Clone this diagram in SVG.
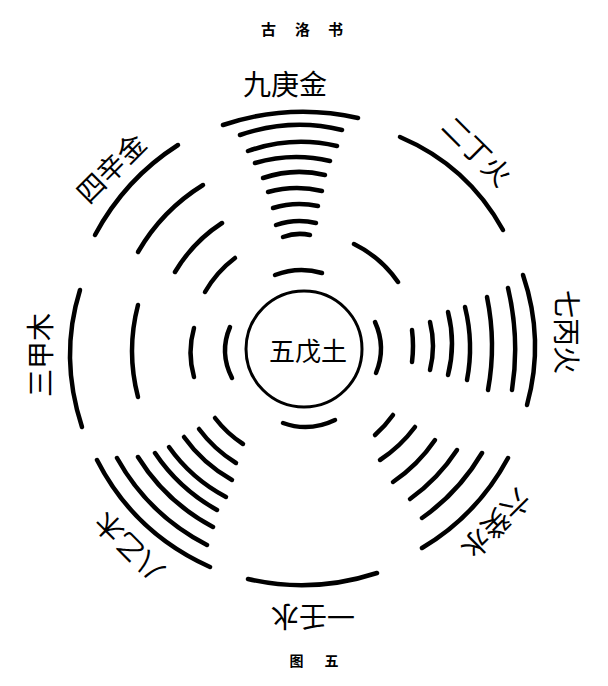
<svg xmlns="http://www.w3.org/2000/svg" width="608" height="686" viewBox="0 0 608 686">
<style>
.a{fill:none;stroke:#000;stroke-width:4.5;stroke-linecap:round}
.t{font-family:"Noto Sans CJK SC","Noto Sans CJK JP",sans-serif;font-size:28px;fill:#000;text-anchor:middle;dominant-baseline:central}
.h{font-family:"Noto Sans CJK SC","Noto Sans CJK JP",sans-serif;font-size:15px;font-weight:bold;fill:#000;text-anchor:middle}
</style>
<rect width="608" height="686" fill="#fff"/>
<text class="h" x="268.5 302.5 335.5" y="35">古洛书</text>
<text class="h" x="296.5 331.5" y="666" style="font-size:14px">图五</text>

<g id="n9">
<path class="a" d="M223 125Q290.5 102.5 358 118"/>
<path class="a" d="M240 135Q291 117.5 342 130"/>
<path class="a" d="M248 151Q292.5 135.5 337 146"/>
<path class="a" d="M255 163Q292.5 152 330 161"/>
<path class="a" d="M263 178Q294 167.5 325 175"/>
<path class="a" d="M268 192Q295 184.5 322 191"/>
<path class="a" d="M273 208Q295.5 201 318 206"/>
<path class="a" d="M276 225Q296 218 316 223"/>
<path class="a" d="M283 237Q296.5 232 310 235"/>
<text class="t" x="285" y="83">九庚金</text>
</g>

<g id="n5">
<circle cx="304" cy="349" r="58" fill="none" stroke="#000" stroke-width="3"/>
<path class="a" d="M275 275Q298.5 266 322 273"/>
<path class="a" d="M283 423Q309 432.5 335 420"/>
<path class="a" d="M230 327Q219 352.5 232 378"/>
<path class="a" d="M375 322Q386.5 347.5 376 373"/>
<text class="t" x="308" y="349" style="font-size:26px">五戊土</text>
</g>

<g id="n3">
<path class="a" d="M80 290Q59 357 82 427"/>
<path class="a" d="M138 305Q126 351 138 397"/>
<path class="a" d="M194 328Q187 352.5 194 377"/>
<text class="t" transform="translate(39 355) rotate(-90)">三甲木</text>
</g>

<g id="n7">
<path class="a" d="M412 330Q414 346 412 362"/>
<path class="a" d="M430 322Q436 346 430 370"/>
<path class="a" d="M448 312Q456 343.5 448 375"/>
<path class="a" d="M465 307Q474 343.5 467 380"/>
<path class="a" d="M487 297Q496.5 343.5 488 390"/>
<path class="a" d="M508 288Q520 339 512 390"/>
<path class="a" d="M523 275Q545 340 527 405"/>
<text class="t" transform="translate(568 332) rotate(90)">七丙火</text>
</g>

<g id="n1">
<path class="a" d="M248 579Q312.5 594 377 573"/>
<text class="t" transform="translate(313 618) rotate(180)">一壬水</text>
</g>

<g id="n4">
<path class="a" d="M95 235Q125.2 178.7 178 145"/>
<path class="a" d="M138 252Q162.2 210.2 203 185"/>
<path class="a" d="M175 272Q192.9 241.9 222 223"/>
<path class="a" d="M205 292Q216.7 271.7 235 258"/>
<text class="t" transform="translate(110 167) rotate(-45)">四辛金</text>
</g>

<g id="n2">
<path class="a" d="M400 137Q467.6 165.7 503 230"/>
<path class="a" d="M354 244Q381 257.3 398 282"/>
<text class="t" transform="translate(478 150) rotate(45)">二丁火</text>
</g>

<g id="n6">
<path class="a" d="M375 435Q385.1 426.1 393 415"/>
<path class="a" d="M380 460Q400.5 446.5 415 427"/>
<path class="a" d="M393 482Q418 465 435 440"/>
<path class="a" d="M410 499Q438 479 457 450"/>
<path class="a" d="M422 518Q458.8 492.3 482 453"/>
<path class="a" d="M422 548Q477.2 515.2 508 458"/>
<text class="t" transform="translate(497 525) rotate(135)">六癸水</text>
</g>

<g id="n8">
<path class="a" d="M215 418Q226.7 433.3 243 444"/>
<path class="a" d="M199 429Q214.1 449.4 236 463"/>
<path class="a" d="M184 437Q202.9 463.6 232 480"/>
<path class="a" d="M169 447Q191.1 478.4 226 497"/>
<path class="a" d="M155 453Q178.9 488.6 217 510"/>
<path class="a" d="M138 457Q165.7 501.8 213 527"/>
<path class="a" d="M117 458Q148.6 514.9 207 545"/>
<path class="a" d="M97 460Q134.1 532.9 210 567"/>
<text class="t" transform="translate(128 548) rotate(225)">八乙木</text>
</g>

<g id="connectors"></g>
</svg>
